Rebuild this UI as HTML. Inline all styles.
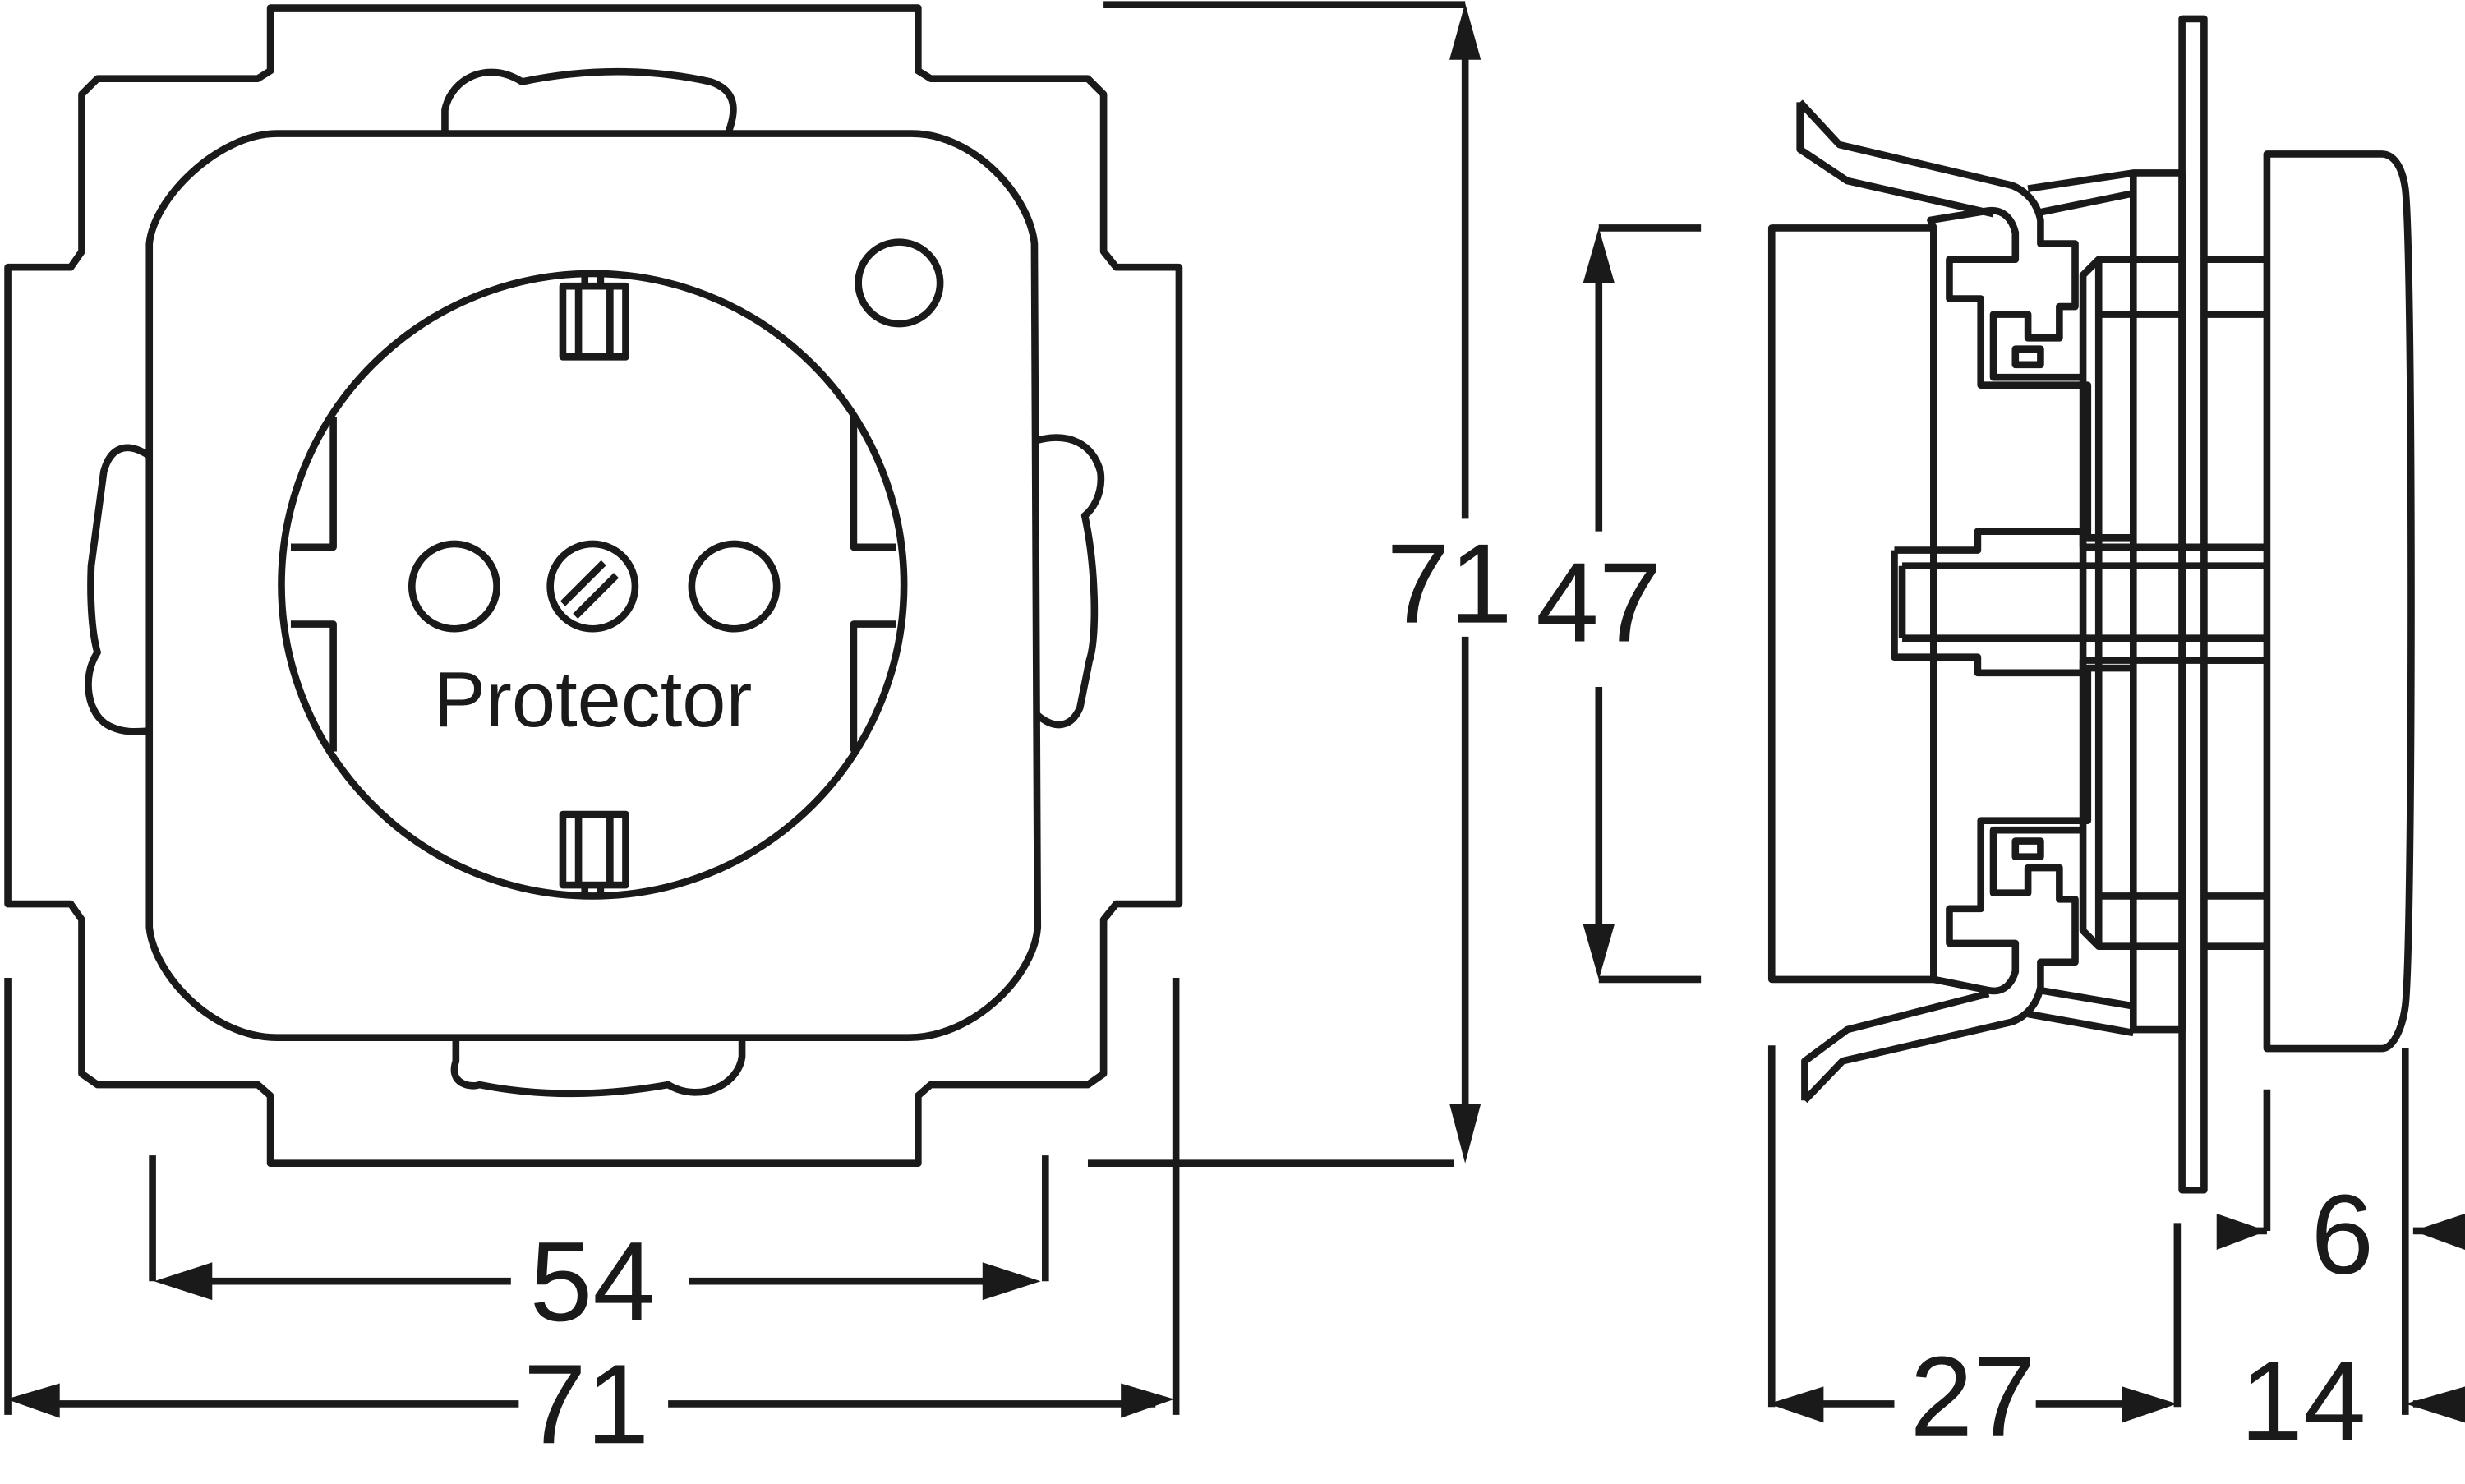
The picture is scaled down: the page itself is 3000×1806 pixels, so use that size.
<!DOCTYPE html>
<html><head><style>html,body{margin:0;padding:0;background:#fff}svg{display:block}</style></head><body>
<svg width="3000" height="1806" viewBox="0 0 1568 944" preserveAspectRatio="none" xmlns="http://www.w3.org/2000/svg">
<g fill="none" stroke="#1a1a1a" stroke-width="4.5" stroke-linejoin="round">
<path d="M172,5 L584,5 L584,45 L592,50 L692,50 L702,60 L702,160 L710,170 L750,170 L750,575 L710,575 L702,585 L702,683 L692,690 L592,690 L584,697 L584,740 L172,740 L172,697 L164,690 L62,690 L52,683 L52,585 L45,575 L5,575 L5,170 L45,170 L52,160 L52,60 L62,50 L164,50 L172,45 Z"/>
<path d="M176,85 L580,85 C620,85 655,125 658,155 L660,590 C658,620 620,660 578,660 L176,660 C135,660 98,620 95,590 L95,155 C98,125 140,85 176,85 Z"/>
<path d="M283,85 L283,70 C287,50 310,38 332,52 C380,42 420,45 452,52 C470,58 468,72 463,85"/>
<path d="M290,660 L290,675 C285,690 300,692 305,690 C340,697 380,698 425,690 C445,702 470,690 472,672 L472,660"/>
<path d="M95,290 C80,280 70,285 66,300 L58,360 C57,385 59,405 62,415 C52,430 55,455 70,462 C80,467 90,465 95,465"/>
<path d="M660,280 C680,275 695,282 700,300 C702,315 694,325 690,328 C697,360 698,405 693,420 L687,450 C682,462 672,465 660,455"/>
<circle cx="377" cy="372" r="198"/>
<circle cx="572" cy="180" r="26"/>
<circle cx="289" cy="373" r="27"/><circle cx="377" cy="373" r="27"/><circle cx="467" cy="373" r="27"/>
<path d="M358,384 L384,358 M366,392 L392,366"/>
<rect x="358" y="182" width="40" height="45"/><path d="M368,182 L368,227 M388,182 L388,227 M372,176 L372,182 M382,176 L382,182"/>
<rect x="358" y="518" width="40" height="45"/><path d="M368,518 L368,563 M388,518 L388,563 M372,563 L372,570 M382,563 L382,570"/>
<path d="M212,265 L212,348 L185,348 M212,478 L212,397 L185,397 M543,265 L543,348 L570,348 M543,478 L543,397 L570,397"/>
<path d="M702,3 L932,3 M692,740 L925,740 M932,20 L932,330 M932,405 L932,720 M1017,145 L1082,145 M1017,623 L1082,623 M1017,160 L1017,338 M1017,437 L1017,608"/>
<path d="M97,735 L97,815 M665,735 L665,815 M110,815 L325,815 M438,815 L650,815 M5,622 L5,900 M748,622 L748,900 M20,893 L330,893 M425,893 L735,893"/>
<rect x="1127" y="145" width="103" height="478"/>
<rect x="1388" y="12" width="14" height="745"/>
<path d="M1442,98 L1515,98 C1522,98 1528,105 1530,120 C1535,160 1535,600 1530,640 C1528,655 1522,667 1515,667 L1442,667 Z"/>
<path d="M1402,165 L1442,165 M1402,200 L1442,200 M1402,570 L1442,570 M1402,602 L1442,602 M1402,348 L1442,348 M1402,420 L1442,420"/>
<path d="M1357,110 L1388,110 L1388,655 L1357,655 Z"/>
<path d="M1335,165 L1388,165 M1335,200 L1388,200 M1335,570 L1388,570 M1335,602 L1388,602 M1325,175 L1335,165 L1335,602 L1325,592 Z"/>
<path d="M1230,145 L1228,140 L1265,134 C1275,133 1280,140 1282,148 L1282,165 L1240,165 L1240,190 L1260,190 L1260,245 L1328,245 L1328,342 L1357,342"/>
<path d="M1230,623 L1265,630 C1275,632 1280,625 1282,618 L1282,600 L1240,600 L1240,578 L1260,578 L1260,522 L1328,522 L1328,425 L1357,425"/>
<path d="M1290,120 L1357,110 M1298,135 L1357,123 M1290,645 L1357,657 M1298,630 L1357,640"/>
<path d="M1145,65 L1170,92 L1280,118 C1290,122 1296,130 1298,140 L1298,155 L1320,155 L1320,195 L1310,195 L1310,215 L1290,215 L1290,200 L1268,200 L1268,240 L1325,240"/>
<path d="M1145,65 L1145,95 L1175,115 L1268,136 M1148,700 L1148,675 L1175,655 L1265,632"/>
<path d="M1148,700 L1172,675 L1280,650 C1290,646 1296,638 1298,628 L1298,612 L1320,612 L1320,572 L1310,572 L1310,552 L1290,552 L1290,568 L1268,568 L1268,528 L1325,528"/>
<rect x="1282" y="222" width="16" height="10"/><rect x="1282" y="535" width="16" height="10"/>
<path d="M1205,350 L1258,350 L1258,338 L1325,338 L1325,348 L1442,348 M1205,350 L1205,418 L1258,418 L1258,428 L1325,428 L1325,420 L1442,420 M1210,360 L1442,360 M1210,406 L1442,406 M1210,360 L1210,406"/>
<path d="M1127,665 L1127,895 M1385,778 L1385,895 M1442,693 L1442,783 M1530,667 L1530,900 M1140,893 L1205,893 M1295,893 L1372,893 M1415,783 L1442,783 M1535,783 L1568,783 M1535,893 L1568,893"/>
</g>
<g fill="#1a1a1a" stroke="none">
<polygon points="932,2 922,38 942,38"/><polygon points="932,740 922,702 942,702"/>
<polygon points="1017,145 1007,180 1027,180"/><polygon points="1017,623 1007,588 1027,588"/>
<polygon points="98,815 135,803 135,827"/><polygon points="662,815 625,803 625,827"/>
<polygon points="4,890 38,880 38,902"/><polygon points="747,890 713,880 713,902"/>
<polygon points="1125,893 1160,882 1160,905"/><polygon points="1385,893 1350,882 1350,905"/>
<polygon points="1442,783 1410,772 1410,795"/><polygon points="1535,783 1568,772 1568,795"/>
<polygon points="1530,893 1568,882 1568,905"/>
</g>
<g font-family="Liberation Sans, sans-serif" fill="#1a1a1a" text-anchor="middle">
<text x="377" y="462" font-size="50">Protector</text>
<text x="922" y="396" font-size="72">71</text>
<text x="1017" y="408" font-size="72">47</text>
<text x="377" y="840" font-size="72">54</text>
<text x="373" y="918" font-size="72">71</text>
<text x="1255" y="913" font-size="72">27</text>
<text x="1465" y="916" font-size="72">14</text>
<text x="1490" y="810" font-size="72">6</text>
</g>
</svg>
</body></html>
